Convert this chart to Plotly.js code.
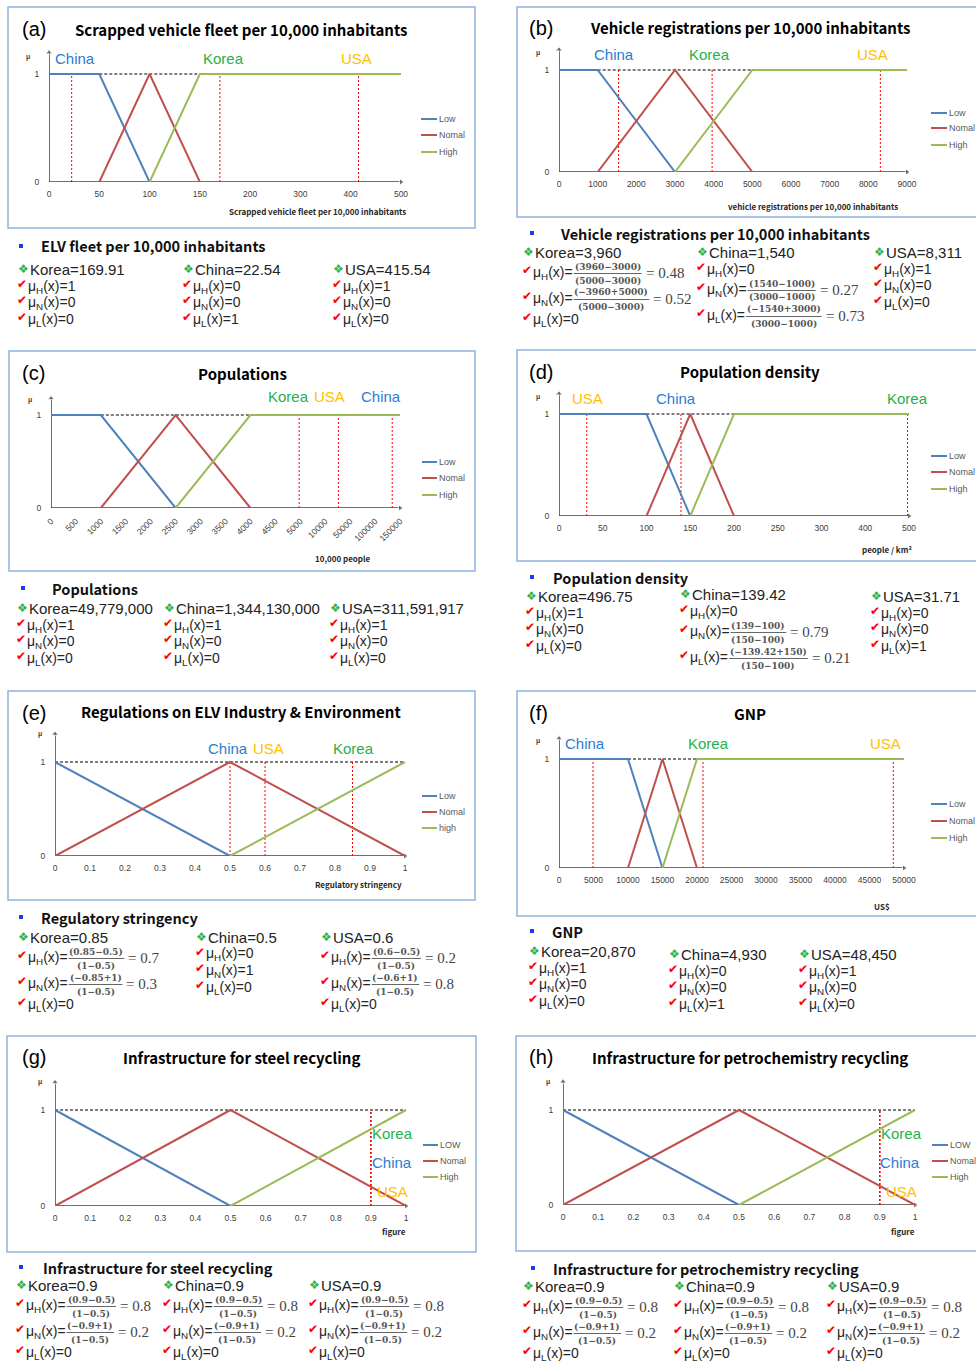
<!DOCTYPE html>
<html><head><meta charset="utf-8">
<script src="https://cdn.plot.ly/plotly-3.0.1.min.js"></script>
<style>body{margin:0;background:#fff}#chart{width:976px;height:1362px}</style>
</head><body><div id="chart"></div>
<script>
// ================= DATA =================
const seriesNames  = ['Low', 'Nomal', 'High'];
const seriesNamesE = ['Low', 'Nomal', 'high'];
const seriesNamesG = ['LOW', 'Nomal', 'High'];
const lowY = [1, 1, 0];
const normalY = [0, 1, 0];
const highY = [0, 1, 1];
const countries = ['Korea', 'China', 'USA'];   // order of the value arrays

// (a) scrapped vehicle fleet per 10,000 inhabitants
const aTicks = [0, 50, 100, 150, 200, 300, 400, 500];
const aLowX = [0, 50, 100], aNormalX = [50, 100, 150], aHighX = [100, 150, 500], aDashX = [50, 150];
const aValues = [169.91, 22.54, 415.54];
// (b) vehicle registrations per 10,000 inhabitants
const bTicks = [0, 1000, 2000, 3000, 4000, 5000, 6000, 7000, 8000, 9000];
const bLowX = [0, 1000, 3000], bNormalX = [1000, 3000, 5000], bHighX = [3000, 5000, 9000], bDashX = [1000, 5000];
const bValues = [3960, 1540, 8311];
// (c) populations (axis unit: 10,000 people)
const cTicks = [0, 500, 1000, 1500, 2000, 2500, 3000, 3500, 4000, 4500, 5000, 10000, 50000, 100000, 150000];
const cLowX = [0, 1000, 2500], cNormalX = [1000, 2500, 4000], cHighX = [2500, 4000, 150000], cDashX = [1000, 4000];
const cValues = [49779000, 1344130000, 311591917];
// (d) population density
const dTicks = [0, 50, 100, 150, 200, 250, 300, 400, 500];
const dLowX = [0, 100, 150], dNormalX = [100, 150, 200], dHighX = [150, 200, 500], dDashX = [100, 200];
const dValues = [496.75, 139.42, 31.71];
// (e) regulatory stringency
const eTicks = [0, 0.1, 0.2, 0.3, 0.4, 0.5, 0.6, 0.7, 0.8, 0.9, 1];
const eLowX = [0, 0, 0.5], eNormalX = [0, 0.5, 1], eHighX = [0.5, 1, 1], eDashX = [0, 1];
const eValues = [0.85, 0.5, 0.6];
// (f) GNP
const fTicks = [0, 5000, 10000, 15000, 20000, 25000, 30000, 35000, 40000, 45000, 50000];
const fLowX = [0, 10000, 15000], fNormalX = [10000, 15000, 20000], fHighX = [15000, 20000, 50000], fDashX = [10000, 20000];
const fValues = [20870, 4930, 48450];
// (g) steel recycling infrastructure
const gTicks = [0, 0.1, 0.2, 0.3, 0.4, 0.5, 0.6, 0.7, 0.8, 0.9, 1];
const gLowX = [0, 0, 0.5], gNormalX = [0, 0.5, 1], gHighX = [0.5, 1, 1], gDashX = [0, 1];
const gValues = [0.9, 0.9, 0.9];
// (h) petrochemistry recycling infrastructure
const hTicks = [0, 0.1, 0.2, 0.3, 0.4, 0.5, 0.6, 0.7, 0.8, 0.9, 1];
const hLowX = [0, 0, 0.5], hNormalX = [0, 0.5, 1], hHighX = [0.5, 1, 1], hDashX = [0, 1];
const hValues = [0.9, 0.9, 0.9];

const chartTitles = ['Scrapped vehicle fleet per 10,000 inhabitants', 'Vehicle registrations per 10,000 inhabitants',
  'Populations', 'Population density', 'Regulations on ELV Industry & Environment', 'GNP',
  'Infrastructure for steel recycling', 'Infrastructure for petrochemistry recycling'];
const axisTitles = ['Scrapped vehicle fleet per 10,000 inhabitants', 'vehicle registrations per 10,000 inhabitants',
  '10,000 people', 'people / km²', 'Regulatory stringency', 'US$', 'figure', 'figure'];
const headerTitles = ['ELV fleet per 10,000 inhabitants', 'Vehicle registrations per 10,000 inhabitants',
  'Populations', 'Population density', 'Regulatory stringency', 'GNP',
  'Infrastructure for steel recycling', 'Infrastructure for petrochemistry recycling'];

// membership rows: [subscript, result, numerator, denominator]
const aKoreaRows = [['H','1'],['N','0'],['L','0']];
const aChinaRows = [['H','0'],['N','0'],['L','1']];
const aUSARows   = [['H','1'],['N','0'],['L','0']];
const bKoreaRows = [['H','0.48','(3960−3000)','(5000−3000)'],['N','0.52','(−3960+5000)','(5000−3000)'],['L','0']];
const bChinaRows = [['H','0'],['N','0.27','(1540−1000)','(3000−1000)'],['L','0.73','(−1540+3000)','(3000−1000)']];
const bUSARows   = [['H','1'],['N','0'],['L','0']];
const cKoreaRows = [['H','1'],['N','0'],['L','0']];
const cChinaRows = [['H','1'],['N','0'],['L','0']];
const cUSARows   = [['H','1'],['N','0'],['L','0']];
const dKoreaRows = [['H','1'],['N','0'],['L','0']];
const dChinaRows = [['H','0'],['N','0.79','(139−100)','(150−100)'],['L','0.21','(−139.42+150)','(150−100)']];
const dUSARows   = [['H','0'],['N','0'],['L','1']];
const eKoreaRows = [['H','0.7','(0.85−0.5)','(1−0.5)'],['N','0.3','(−0.85+1)','(1−0.5)'],['L','0']];
const eChinaRows = [['H','0'],['N','1'],['L','0']];
const eUSARows   = [['H','0.2','(0.6−0.5)','(1−0.5)'],['N','0.8','(−0.6+1)','(1−0.5)'],['L','0']];
const fKoreaRows = [['H','1'],['N','0'],['L','0']];
const fChinaRows = [['H','0'],['N','0'],['L','1']];
const fUSARows   = [['H','1'],['N','0'],['L','0']];
const gKoreaRows = [['H','0.8','(0.9−0.5)','(1−0.5)'],['N','0.2','(−0.9+1)','(1−0.5)'],['L','0']];
const gChinaRows = [['H','0.8','(0.9−0.5)','(1−0.5)'],['N','0.2','(−0.9+1)','(1−0.5)'],['L','0']];
const gUSARows   = [['H','0.8','(0.9−0.5)','(1−0.5)'],['N','0.2','(−0.9+1)','(1−0.5)'],['L','0']];
const hKoreaRows = [['H','0.8','(0.9−0.5)','(1−0.5)'],['N','0.2','(−0.9+1)','(1−0.5)'],['L','0']];
const hChinaRows = [['H','0.8','(0.9−0.5)','(1−0.5)'],['N','0.2','(−0.9+1)','(1−0.5)'],['L','0']];
const hUSARows   = [['H','0.8','(0.9−0.5)','(1−0.5)'],['N','0.2','(−0.9+1)','(1−0.5)'],['L','0']];

// ================= LAYOUT / STYLE =================
const W = 976, H = 1362;
const SANS = 'Liberation Sans, Arial, sans-serif';
const CJK = 'Noto Sans CJK KR, Noto Sans, sans-serif';
const SERIF = 'Liberation Serif, Times New Roman, serif';
const FRAC = 'DejaVu Serif, serif';
const SYM = 'DejaVu Sans, sans-serif';
const seriesColors = ['#4F81BD', '#C0504D', '#9BBB59'];
const countryColors = {China: '#2B7CD3', Korea: '#22B24C', USA: '#FFC000'};

const panels = [
 {id:'a', ticks:aTicks, low:aLowX, nor:aNormalX, high:aHighX, dash:aDashX, vals:aValues, vscale:1, names:seriesNames, angle:0,
  box:[8,7,475,228], tag:[22,29], title:[241,29], mu:[28,57], ax:[49,401,182,74,1.2], xt:[317,212],
  labels:[['China',75,58],['Korea',223,58],['USA',356,58]], leg:[421,437,119,135,152],
  hdr:[21,41,246], cols:[[18,269,aKoreaRows],[183,269,aChinaRows],[333,269,aUSARows]]},
 {id:'b', ticks:bTicks, low:bLowX, nor:bNormalX, high:bHighX, dash:bDashX, vals:bValues, vscale:1, names:seriesNames, angle:0,
  box:[517,7,990,217], tag:[529,28], title:[750,27], mu:[538,53], ax:[559,907,172,70,1.2], xt:[813,206],
  labels:[['China',614,55],['Korea',709,55],['USA',872,55]], leg:[931,947,113,128,145],
  hdr:[532,560,233], cols:[[523,252,bKoreaRows],[697,252,bChinaRows],[874,252,bUSARows]]},
 {id:'c', ticks:cTicks, low:cLowX, nor:cNormalX, high:cHighX, dash:cDashX, vals:cValues, vscale:10000, names:seriesNames, angle:-45,
  box:[9,351,475,571], tag:[22,373], title:[242,373], mu:[30,400], ax:[51,400,508,415,1.18], xt:[342,558],
  labels:[['Korea',288,397],['USA',329,397],['China',381,397]], leg:[422,437,462,478,495],
  hdr:[23,52,588], cols:[[17,608,cKoreaRows],[164,608,cChinaRows],[330,608,cUSARows]]},
 {id:'d', ticks:dTicks, low:dLowX, nor:dNormalX, high:dHighX, dash:dDashX, vals:dValues, vscale:1, names:seriesNames, angle:0,
  box:[517,350,990,561], tag:[529,372], title:[750,371], mu:[538,397], ax:[559,909,516,414,1.2], xt:[887,549],
  labels:[['USA',587,398],['China',676,398],['Korea',907,398]], leg:[931,947,456,472,489],
  hdr:[532,553,577], cols:[[526,596,dKoreaRows],[680,594,dChinaRows],[871,596,dUSARows]]},
 {id:'e', ticks:eTicks, low:eLowX, nor:eNormalX, high:eHighX, dash:eDashX, vals:eValues, vscale:1, names:seriesNamesE, angle:0,
  box:[8,691,475,900], tag:[22,713], title:[241,712], mu:[40,734], ax:[55,405,856,762,1.3], xt:[358,884],
  labels:[['China',228,748],['USA',268,748],['Korea',353,748]], leg:[422,437,796,812,828],
  hdr:[21,41,917], cols:[[18,937,eKoreaRows],[196,937,eChinaRows],[321,937,eUSARows]]},
 {id:'f', ticks:fTicks, low:fLowX, nor:fNormalX, high:fHighX, dash:fDashX, vals:fValues, vscale:1, names:seriesNames, angle:0,
  box:[517,691,990,916], tag:[529,713], title:[750,713], mu:[538,741], ax:[559,904,868,759,1.19], xt:[882,907],
  labels:[['China',585,743],['Korea',708,743],['USA',885,743]], leg:[931,947,804,821,838],
  hdr:[532,552,931], cols:[[529,951,fKoreaRows],[669,954,fChinaRows],[799,954,fUSARows]]},
 {id:'g', ticks:gTicks, low:gLowX, nor:gNormalX, high:gHighX, dash:gDashX, vals:gValues, vscale:1, names:seriesNamesG, angle:0,
  box:[7,1036,476,1252], tag:[22,1057], title:[241,1057], mu:[40,1082], ax:[55,406,1206,1110,1.29], xt:[394,1231],
  labels:[['Korea',392,1133],['China',392,1162],['USA',392,1191]], leg:[423,438,1145,1161,1177],
  hdr:[21,43,1267], cols:[[16,1285,gKoreaRows],[163,1285,gChinaRows],[309,1285,gUSARows]]},
 {id:'h', ticks:hTicks, low:hLowX, nor:hNormalX, high:hHighX, dash:hDashX, vals:hValues, vscale:1, names:seriesNamesG, angle:0,
  box:[516,1036,990,1251], tag:[529,1057], title:[750,1057], mu:[548,1082], ax:[563,915,1205,1110,1.3], xt:[903,1231],
  labels:[['Korea',901,1133],['China',900,1162],['USA',901,1191]], leg:[932,948,1145,1161,1177],
  hdr:[533,553,1268], cols:[[523,1286,hKoreaRows],[674,1286,hChinaRows],[827,1286,hUSARows]]}
];

// ================= BUILD =================
const ctx = document.createElement('canvas').getContext('2d');
function tw(t, size, fam, weight) { ctx.font = (weight || 'normal') + ' ' + size + 'px ' + fam; return ctx.measureText(t).width; }
function piece(v, ticks) {
  if (v <= ticks[0]) return 0;
  for (let i = 0; i < ticks.length - 1; i++) if (v <= ticks[i + 1]) return i + (v - ticks[i]) / (ticks[i + 1] - ticks[i]);
  return ticks.length - 1;
}
const traces = [], ann = [], shapes = [];
const layout = {width: W, height: H, margin: {l:0, r:0, t:0, b:0}, paper_bgcolor: '#fff', plot_bgcolor: 'rgba(0,0,0,0)',
  showlegend: false, annotations: ann, shapes: shapes, hovermode: false};

function A(x, y, t, font, o) {
  ann.push(Object.assign({xref:'paper', yref:'paper', x:x / W, y:1 - y / H, text:t, showarrow:false,
    xanchor:'left', yanchor:'middle', borderpad:0, borderwidth:0, font:font}, o || {}));
}
function L(x0, y0, x1, y1, color, width, dash) {
  shapes.push({type:'line', xref:'paper', yref:'paper', x0:x0 / W, x1:x1 / W, y0:1 - y0 / H, y1:1 - y1 / H,
    line:{color:color, width:width, dash:dash || 'solid'}});
}
const MUF = {family:SANS, size:14, color:'#262626'};
function muRow(x, y, r) {
  A(x - 1, y - 3, '✔', {family:SYM, size:12, color:'#FF0000'});
  const mx = x + 10;
  if (r.length < 3) { A(mx, y, 'μ<sub>' + r[0] + '</sub>(x)=' + r[1], MUF); return; }
  A(mx, y, 'μ<sub>' + r[0] + '</sub>(x)=', MUF);
  const w1 = tw('μ', 14, SANS) + tw(r[0], 9.8, SANS) + tw('(x)=', 14, SANS);
  const fw = Math.max(tw(r[2], 9, FRAC, 'bold'), tw(r[3], 9, FRAC, 'bold')) + 2;
  const fx = mx + w1 + 1;
  A(fx + fw / 2, y - 6.5, '<b>' + r[2] + '</b>', {family:FRAC, size:9, color:'#555'}, {xanchor:'center'});
  A(fx + fw / 2, y + 7.5, '<b>' + r[3] + '</b>', {family:FRAC, size:9, color:'#555'}, {xanchor:'center'});
  L(fx, y + 0.5, fx + fw, y + 0.5, '#555', 0.9);
  A(fx + fw + 4, y, '= ' + r[1], {family:SERIF, size:15, color:'#444'});
}

panels.forEach((p, k) => {
  const n = k + 1, xa = n === 1 ? 'x' : 'x' + n, ya = n === 1 ? 'y' : 'y' + n;
  const pos = v => piece(v, p.ticks);
  const [x0, xN, y0, y1, ytop] = p.ax;
  const nT = p.ticks.length, ppi = (xN - x0) / (nT - 1), xr = nT - 1 + 0.35;
  const ppu = y0 - y1, yr = 1.4;
  const common = {showgrid:false, zeroline:false, showline:false, ticks:'outside', tickcolor:'rgba(0,0,0,0)',
    tickfont:{family:SANS, size:8.5, color:'#404040'}, fixedrange:true};
  layout['xaxis' + (n > 1 ? n : '')] = Object.assign({}, common, {domain:[x0 / W, (x0 + xr * ppi) / W], range:[0, xr], anchor:ya,
    tickvals:p.ticks.map((t, i) => i), ticktext:p.ticks.map(String), tickangle:p.angle, ticklen:4});
  layout['yaxis' + (n > 1 ? n : '')] = Object.assign({}, common, {domain:[1 - y0 / H, 1 - (y0 - yr * ppu) / H], range:[0, yr], anchor:xa,
    tickvals:[0, 1], ticktext:['0', '1'], ticklen:7});
  const base = {xaxis:xa, yaxis:ya, cliponaxis:false, hoverinfo:'skip', mode:'lines'};
  // axes with arrows
  traces.push(Object.assign({}, base, {x:[0, nT - 1], y:[0, 0], mode:'lines+markers', line:{color:'#404040', width:1.5},
    marker:{symbol:['circle', 'triangle-right'], size:[0, 6], color:'#404040'}}));
  traces.push(Object.assign({}, base, {x:[0, 0], y:[0, ytop], mode:'lines+markers', line:{color:'#404040', width:1.5},
    marker:{symbol:['circle', 'triangle-up'], size:[0, 6], color:'#404040'}}));
  // dashed top line
  traces.push(Object.assign({}, base, {x:p.dash.map(pos), y:[1, 1], line:{color:'#000', width:1.2, dash:'3px,2px'}}));
  // red dotted country lines
  p.vals.forEach(v => traces.push(Object.assign({}, base, {x:[pos(v / p.vscale), pos(v / p.vscale)], y:[0, 1],
    line:{color:'#FF0000', width:1, dash:'2px,2px'}})));
  // membership functions
  traces.push(Object.assign({}, base, {x:p.low.map(pos), y:lowY, line:{color:seriesColors[0], width:2}}));
  traces.push(Object.assign({}, base, {x:p.nor.map(pos), y:normalY, line:{color:seriesColors[1], width:2}}));
  traces.push(Object.assign({}, base, {x:p.high.map(pos), y:highY, line:{color:seriesColors[2], width:2}}));

  // box
  shapes.push({type:'rect', xref:'paper', yref:'paper', x0:p.box[0] / W, x1:p.box[2] / W, y0:1 - p.box[1] / H, y1:1 - p.box[3] / H,
    line:{color:'#8DB4E2', width:1.5}, fillcolor:'rgba(0,0,0,0)'});
  A(p.tag[0], p.tag[1], '(' + p.id + ')', {family:SANS, size:20, color:'#000'});
  A(p.title[0], p.title[1], '<b>' + chartTitles[k] + '</b>', {family:CJK, size:15, color:'#000'}, {xanchor:'center'});
  A(p.mu[0], p.mu[1], '<b>μ</b>', {family:SANS, size:7, color:'#404040'}, {xanchor:'center'});
  A(p.xt[0], p.xt[1], '<b>' + axisTitles[k] + '</b>', {family:CJK, size:8, color:'#262626'}, {xanchor:'center'});
  p.labels.forEach(([nm, cx, cy]) => A(cx, cy, nm, {family:SANS, size:15, color:countryColors[nm]}, {xanchor:'center'}));
  // legend
  for (let i = 0; i < 3; i++) {
    L(p.leg[0], p.leg[2 + i], p.leg[1], p.leg[2 + i], seriesColors[i], 2);
    A(p.leg[1] + 2, p.leg[2 + i], p.names[i], {family:SANS, size:9, color:'#595959'});
  }
  // text section
  shapes.push({type:'rect', xref:'paper', yref:'paper', x0:(p.hdr[0] - 2) / W, x1:(p.hdr[0] + 2) / W,
    y0:1 - (p.hdr[2] - 2) / H, y1:1 - (p.hdr[2] + 2) / H, line:{width:0}, fillcolor:'#1A3CF0'});
  A(p.hdr[1], p.hdr[2], '<b>' + headerTitles[k] + '</b>', {family:CJK, size:14.5, color:'#111'});
  p.cols.forEach(([cx, cy, rows], ci) => {
    const val = p.vals[ci].toLocaleString('en-US', {maximumFractionDigits: 3});
    A(cx, cy, '❖', {family:SYM, size:12, color:'#2DB34A'});
    A(cx + 12, cy, countries[ci] + '=' + val, {family:SANS, size:15, color:'#222'});
    let y = cy, prev = 'h';
    rows.forEach(r => {
      const f = r.length > 2;
      y += prev === 'h' ? (f ? 21 : 17.5) : prev === 'p' ? (f ? 20.5 : 16.8) : (f ? 26 : 21);
      muRow(cx, y, r);
      prev = f ? 'f' : 'p';
    });
  });
});

Plotly.newPlot('chart', traces, layout, {staticPlot:true, displayModeBar:false});
</script></body></html>
